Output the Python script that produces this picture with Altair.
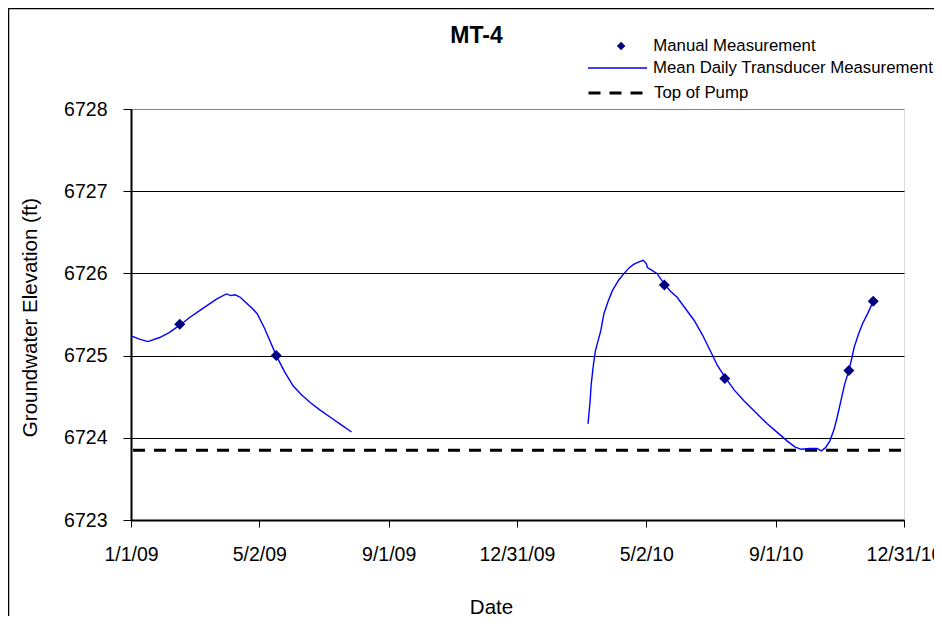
import altair as alt
import pandas as pd

TITLE = "MT-4"
X_TITLE = "Date"
Y_TITLE = "Groundwater Elevation (ft)"
SERIES = ["Manual Measurement", "Mean Daily Transducer Measurement", "Top of Pump"]
Y_TICKS = [6723, 6724, 6725, 6726, 6727, 6728]

# Mean daily transducer record, first segment (2009)
seg1_dates = ["2009-01-01", "2009-01-09", "2009-01-17", "2009-01-28", "2009-02-06",
              "2009-02-16", "2009-02-25", "2009-03-07", "2009-03-15", "2009-03-23",
              "2009-04-01", "2009-04-05", "2009-04-09", "2009-04-14", "2009-04-19",
              "2009-04-25", "2009-04-30", "2009-05-07", "2009-05-12", "2009-05-18",
              "2009-05-26", "2009-06-03", "2009-06-11", "2009-06-19", "2009-06-28",
              "2009-07-08", "2009-07-18", "2009-07-28"]
seg1_vals = [6725.24, 6725.20, 6725.17, 6725.22, 6725.28,
             6725.37, 6725.46, 6725.55, 6725.62, 6725.69,
             6725.75, 6725.73, 6725.74, 6725.71, 6725.65,
             6725.58, 6725.51, 6725.33, 6725.18, 6725.00,
             6724.80, 6724.63, 6724.52, 6724.43, 6724.34,
             6724.25, 6724.16, 6724.07]

# Mean daily transducer record, second segment (2010)
seg2_dates = ["2010-03-08", "2010-03-10", "2010-03-11", "2010-03-13", "2010-03-15",
              "2010-03-20", "2010-03-23", "2010-03-27", "2010-03-31", "2010-04-06",
              "2010-04-11", "2010-04-16", "2010-04-20", "2010-04-25", "2010-04-29",
              "2010-05-02", "2010-05-03", "2010-05-07", "2010-05-12", "2010-05-19",
              "2010-05-25", "2010-05-31", "2010-06-08", "2010-06-16", "2010-06-24",
              "2010-07-02", "2010-07-08", "2010-07-15", "2010-07-24", "2010-08-02",
              "2010-08-13", "2010-08-24", "2010-09-03", "2010-09-12", "2010-09-19",
              "2010-09-25", "2010-10-03", "2010-10-10", "2010-10-14", "2010-10-18",
              "2010-10-22", "2010-10-26", "2010-10-29", "2010-11-02", "2010-11-05",
              "2010-11-09", "2010-11-12", "2010-11-14", "2010-11-18", "2010-11-22",
              "2010-11-27", "2010-12-02"]
seg2_vals = [6724.17, 6724.45, 6724.65, 6724.88, 6725.06,
             6725.30, 6725.51, 6725.66, 6725.79, 6725.92,
             6726.00, 6726.07, 6726.11, 6726.14, 6726.16,
             6726.12, 6726.07, 6726.04, 6726.00, 6725.87,
             6725.78, 6725.71, 6725.57, 6725.43, 6725.25,
             6725.04, 6724.88, 6724.74, 6724.58, 6724.45,
             6724.31, 6724.17, 6724.06, 6723.96, 6723.89,
             6723.86, 6723.87, 6723.87, 6723.84, 6723.88,
             6723.96, 6724.10, 6724.25, 6724.48, 6724.65,
             6724.82, 6724.98, 6725.10, 6725.26, 6725.39,
             6725.52, 6725.66]

# Manual measurements
manual_dates = ["2009-02-16", "2009-05-18", "2010-05-19", "2010-07-15", "2010-11-09", "2010-12-02"]
manual_vals = [6725.38, 6725.00, 6725.86, 6724.72, 6724.82, 6725.66]

# Top of pump elevation
PUMP = 6723.85

line_df = pd.DataFrame({
    "date": seg1_dates + seg2_dates,
    "value": seg1_vals + seg2_vals,
    "segment": [1] * len(seg1_dates) + [2] * len(seg2_dates),
    "series": SERIES[1],
})
manual_df = pd.DataFrame({"date": manual_dates, "value": manual_vals, "series": SERIES[0]})
pump_df = pd.DataFrame({"value": [PUMP], "series": [SERIES[2]]})

FONT = "Liberation Sans"


def dt(y, m, d):
    return alt.DateTime(year=y, month=m, date=d, utc=True)


x_ticks = [dt(2009, 1, 1), dt(2009, 5, 2), dt(2009, 9, 1), dt(2009, 12, 31),
           dt(2010, 5, 2), dt(2010, 9, 1), dt(2010, 12, 31)]

x_enc = alt.X(
    "date:T",
    scale=alt.Scale(type="utc", domain=[dt(2009, 1, 1), dt(2010, 12, 31)]),
    axis=alt.Axis(
        title=X_TITLE, values=x_ticks,
        labelExpr="utcFormat(datum.value, '%-m/%-d/%y')",
        grid=False, tickSize=7, tickColor="black", domainColor="black", domainWidth=2,
        labelFont=FONT, labelFontSize=19.5, labelColor="black", labelPadding=18,
        labelFlush=False, labelOverlap=False,
        titleFont=FONT, titleFontSize=20.5, titleFontWeight="normal", titleColor="black",
        titleX=360, titleY=93, titleBaseline="alphabetic", titleAlign="center",
    ),
)

y_enc = alt.Y(
    "value:Q",
    scale=alt.Scale(domain=[6723, 6728], nice=False, zero=False),
    axis=alt.Axis(
        title=Y_TITLE, values=Y_TICKS, format="d", grid=True,
        gridColor=alt.condition(alt.datum.value == 6728, alt.value("#808080"), alt.value("black")),
        gridWidth=1, tickSize=8, tickColor="black", domainColor="black", domainWidth=2,
        labelFont=FONT, labelFontSize=19.5, labelColor="black", labelPadding=16,
        titleFont=FONT, titleFontSize=20.5, titleFontWeight="normal", titleColor="black",
        titleX=-101, titleY=208, titleAngle=270, titleBaseline="middle", titleAlign="center",
    ),
)

LEG = dict(title=None, orient="none", padding=0, clipHeight=24, rowPadding=0,
           labelFont=FONT, labelFontSize=16.8, labelColor="black", labelLimit=400)

# one single-entry legend per series, stacked as in the reference
shape_enc = alt.Shape(
    "series:N", scale=alt.Scale(domain=[SERIES[0]], range=["diamond"]),
    legend=alt.Legend(legendX=481.75, legendY=-75, symbolSize=72,
                      symbolFillColor="#000080", symbolStrokeColor="#000080",
                      symbolStrokeWidth=0, symbolOpacity=1, labelOffset=23.75, **LEG),
)
color_enc = alt.Color(
    "series:N", scale=alt.Scale(domain=[SERIES[1]], range=["#0000FF"]),
    legend=alt.Legend(legendX=456, legendY=-53, symbolType="stroke",
                      symbolSize=3481, symbolStrokeWidth=1.5, symbolStrokeColor="#0000FF",
                      labelOffset=5, **LEG),
)
dash_enc = alt.StrokeDash(
    "series:N", scale=alt.Scale(domain=[SERIES[2]], range=[[12, 9]]),
    legend=alt.Legend(legendX=456, legendY=-28, symbolType="stroke",
                      symbolSize=3481, symbolStrokeWidth=3, symbolStrokeColor="#000000",
                      symbolDash=[12, 9], labelOffset=5, **LEG),
)

frame = alt.Chart(alt.Data(values=[{}])).mark_rect(
    fill="transparent", stroke="black", strokeWidth=1.5
).encode(x=alt.value(-122.5), x2=alt.value(900), y=alt.value(-100.5), y2=alt.value(700))

pump = alt.Chart(pump_df).mark_rule(
    color="black", strokeWidth=3, strokeDashOffset=18
).encode(y=y_enc, strokeDash=dash_enc)

line = alt.Chart(line_df).mark_line(strokeWidth=1.4).encode(
    x=x_enc, y=y_enc, detail="segment:N", color=color_enc
)

points = alt.Chart(manual_df).mark_point(
    shape="diamond", filled=True, size=121, opacity=1, color="#000080"
).encode(x=x_enc, y=y_enc, shape=shape_enc)

chart = alt.layer(frame, pump, line, points).properties(
    width=773, height=411,
    autosize="none",
    padding={"left": 123, "top": 101, "right": 30, "bottom": 96},
    title=alt.TitleParams(
        text=TITLE, font=FONT, fontSize=23, fontWeight="bold", color="black",
        anchor="middle", frame="group", dx=-41, baseline="alphabetic", offset=-58.5,
    ),
).configure_view(
    stroke="#808080", strokeWidth=2
).configure(background="white")

chart.save("out.html", embed_options={"renderer": "svg", "actions": False})
